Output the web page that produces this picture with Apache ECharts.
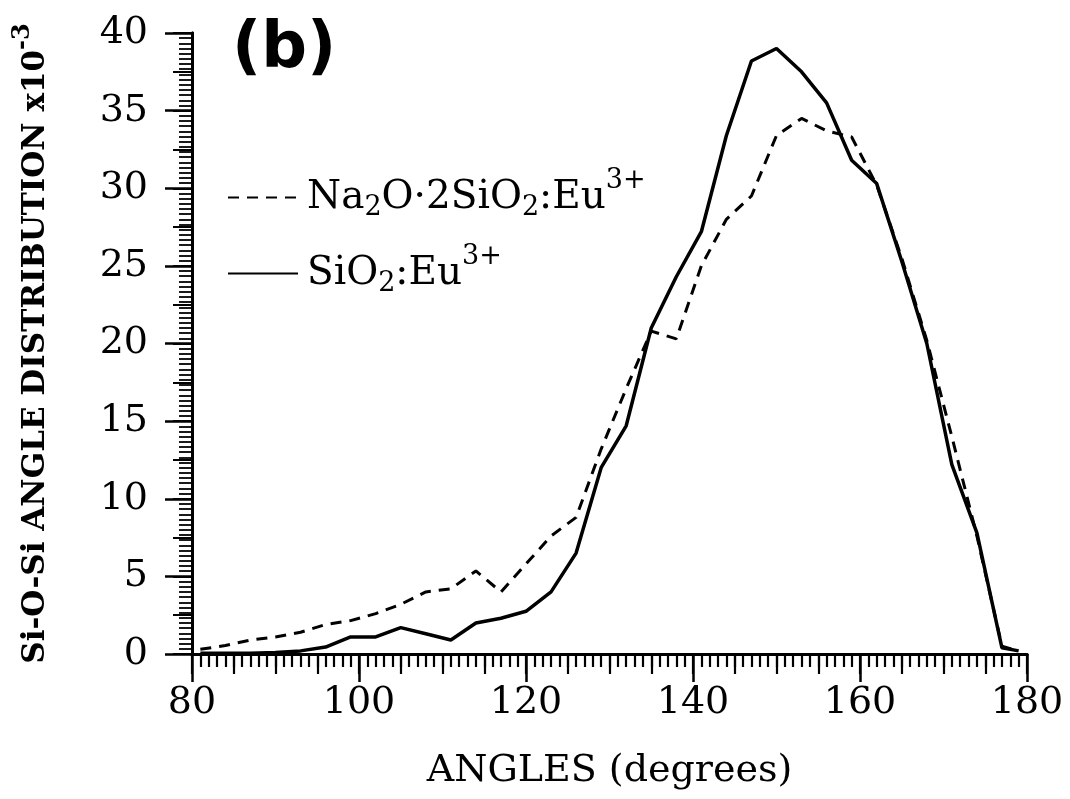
<!DOCTYPE html>
<html>
<head>
<meta charset="utf-8">
<script src="https://cdn.jsdelivr.net/npm/echarts@6/dist/echarts.min.js"></script>
<style>
  html, body { margin: 0; padding: 0; background: #fff; }
  #chart { width: 1070px; height: 799px; }
</style>
</head>
<body>
<div id="chart"></div>
<script>
// Si-O-Si angle distribution (x10^-3), 3-degree bins
const angles = [81, 84, 87, 90, 93, 96, 99, 102, 105, 108, 111, 114, 117, 120, 123, 126,
                129, 132, 135, 138, 141, 144, 147, 150, 153, 156, 159, 162, 165, 168,
                171, 174, 177, 179];
const sodaSilica = [0.3, 0.55, 0.9, 1.1, 1.4, 1.9, 2.15, 2.6, 3.2, 4.0, 4.2, 5.35, 4.0, 5.8, 7.6, 8.8,
                    13.2, 17.1, 20.8, 20.3, 25.0, 28.0, 29.5, 33.4, 34.5, 33.7, 33.3, 30.2, 25.5, 20.2,
                    14.0, 7.6, 0.5, 0.2];
const silica = [0.05, 0.05, 0.05, 0.1, 0.2, 0.45, 1.1, 1.1, 1.7, 1.3, 0.9, 2.0, 2.3, 2.75, 4.0, 6.5,
                12.0, 14.7, 21.0, 24.3, 27.2, 33.4, 38.2, 39.0, 37.5, 35.5, 31.8, 30.3, 25.3, 20.0,
                12.2, 7.8, 0.4, 0.2];
const seriesNames = ['Na2O·2SiO2:Eu3+', 'SiO2:Eu3+'];

const SERIF = '"DejaVu Serif", "Liberation Serif", serif';
const ink = '#000';

const pairs = (ys) => angles.map((a, i) => [a, ys[i]]);

const chart = echarts.init(document.getElementById('chart'));

const baseX = {
  type: 'value', min: 80, max: 180, position: 'bottom',
  axisLine: { show: true, onZero: false, lineStyle: { color: ink, width: 3 } },
  splitLine: { show: false }
};
const baseY = {
  type: 'value', min: 0, max: 40, position: 'left',
  axisLine: { show: true, onZero: false, lineStyle: { color: ink, width: 3 } },
  splitLine: { show: false }
};

chart.setOption({
  animation: false,
  backgroundColor: '#fff',
  grid: { left: 192, right: 43, top: 33, bottom: 145, containLabel: false, outerBoundsMode: 'none' },
  xAxis: [
    Object.assign({}, baseX, {
      interval: 20,
      axisTick: { length: 28, lineStyle: { color: ink, width: 2.5 } },
      minorTick: { show: true, splitNumber: 20, length: 13, lineStyle: { color: ink, width: 2.2 } },
      axisLabel: { fontFamily: SERIF, fontSize: 38, color: ink, margin: 30 },
      name: 'ANGLES (degrees)', nameLocation: 'middle', nameGap: 98,
      nameTextStyle: { fontFamily: SERIF, fontSize: 38, color: ink }
    }),
    Object.assign({}, baseX, {
      interval: 5,
      axisTick: { length: 20, lineStyle: { color: ink, width: 2.2 } },
      axisLabel: { show: false }
    })
  ],
  yAxis: [
    Object.assign({}, baseY, {
      interval: 5,
      axisTick: { length: 27, lineStyle: { color: ink, width: 2.5 } },
      minorTick: { show: true, splitNumber: 15, length: 13, lineStyle: { color: ink, width: 1.8 } },
      axisLabel: { fontFamily: SERIF, fontSize: 38, color: ink, margin: 44 },
      name: 'Si-O-Si ANGLE DISTRIBUTION x10{sup|-3}', nameLocation: 'middle', nameGap: 131, nameRotate: 90,
      nameTextStyle: {
        fontFamily: SERIF, fontSize: 31, fontWeight: 'bold', color: ink,
        rich: { sup: { fontFamily: SERIF, fontSize: 24, fontWeight: 'bold', color: ink, padding: [0, 0, 26, 0] } }
      }
    }),
    Object.assign({}, baseY, {
      interval: 2.5,
      axisTick: { length: 19, lineStyle: { color: ink, width: 2 } },
      axisLabel: { show: false }
    })
  ],
  legend: {
    orient: 'vertical', left: 222, top: 162, itemWidth: 70, itemHeight: 4, itemGap: 22,
    itemStyle: { opacity: 0 },
    data: seriesNames,
    formatter: (n) => n === seriesNames[0]
      ? 'Na{sub|2}O·2SiO{sub|2}:Eu{sup|3+}'
      : 'SiO{sub|2}:Eu{sup|3+}',
    textStyle: {
      fontFamily: SERIF, fontSize: 39, color: ink, padding: [0, 0, 0, 4],
      rich: {
        sub: { fontFamily: SERIF, fontSize: 27, color: ink, padding: [20, 0, 0, 0] },
        sup: { fontFamily: SERIF, fontSize: 27, color: ink, padding: [0, 0, 34, 0] }
      }
    }
  },
  graphic: [
    { type: 'text', left: 232, top: 18,
      style: { text: '(b)', font: 'bold 64px "DejaVu Sans", "Liberation Sans", sans-serif', fill: ink } }
  ],
  series: [
    { name: seriesNames[0], type: 'line', data: pairs(sodaSilica), showSymbol: false, symbol: 'none',
      lineStyle: { color: ink, width: 3, type: [11, 8] }, itemStyle: { color: ink } },
    { name: seriesNames[1], type: 'line', data: pairs(silica), showSymbol: false, symbol: 'none',
      lineStyle: { color: ink, width: 3.5 }, itemStyle: { color: ink } }
  ]
});
</script>
</body>
</html>
